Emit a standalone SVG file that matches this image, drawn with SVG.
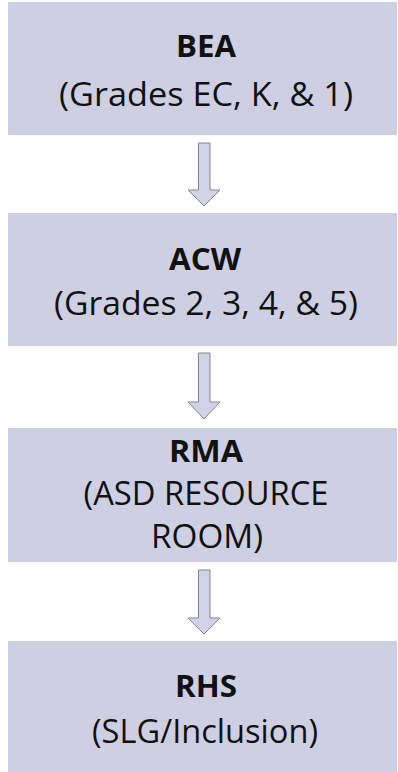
<svg xmlns="http://www.w3.org/2000/svg" width="398" height="772" viewBox="0 0 398 772">
<style>
.box{fill:#CFCFE3;}
.t{font-family:"Open Sans","Noto Sans","Liberation Sans",sans-serif;font-size:33px;fill:#111;text-anchor:middle;}
.b{font-weight:bold;font-size:30px;}
.arr{fill:#D2D2E6;stroke:#85858F;stroke-width:1;}
</style>
<rect width="398" height="772" fill="#FFFFFF"/>
<g id="node-bea">
<rect class="box" x="8" y="2" width="389" height="133"/>
<text class="t b" x="206" y="57" textLength="60" lengthAdjust="spacingAndGlyphs">BEA</text>
<text class="t" x="206" y="106" textLength="294" lengthAdjust="spacingAndGlyphs">(Grades EC, K, &amp; 1)</text>
</g>
<g id="node-acw">
<rect class="box" x="8" y="213" width="389" height="133"/>
<text class="t b" x="205" y="270" textLength="72" lengthAdjust="spacingAndGlyphs">ACW</text>
<text class="t" x="206" y="315" textLength="304" lengthAdjust="spacingAndGlyphs">(Grades 2, 3, 4, &amp; 5)</text>
</g>
<g id="node-rma">
<rect class="box" x="8" y="428" width="389" height="134"/>
<text class="t b" x="206" y="462" textLength="74" lengthAdjust="spacingAndGlyphs">RMA</text>
<text class="t" x="206" y="505" textLength="245" lengthAdjust="spacingAndGlyphs">(ASD RESOURCE</text>
<text class="t" x="207" y="548" textLength="112" lengthAdjust="spacingAndGlyphs">ROOM)</text>
</g>
<g id="node-rhs">
<rect class="box" x="8" y="641" width="389" height="131"/>
<text class="t b" x="206" y="697" textLength="62" lengthAdjust="spacingAndGlyphs">RHS</text>
<text class="t" x="205" y="743" textLength="226" lengthAdjust="spacingAndGlyphs">(SLG/Inclusion)</text>
</g>
<g id="connectors">
<path class="arr" d="M198.5,143 H210 V190 H220 L204,206 L188,190 H198.5 Z"/>
<path class="arr" d="M198.5,353 H210 V402 H220 L204,419 L188,402 H198.5 Z"/>
<path class="arr" d="M198.5,570 H210 V618 H220 L204,634 L188,618 H198.5 Z"/>
</g>
</svg>
